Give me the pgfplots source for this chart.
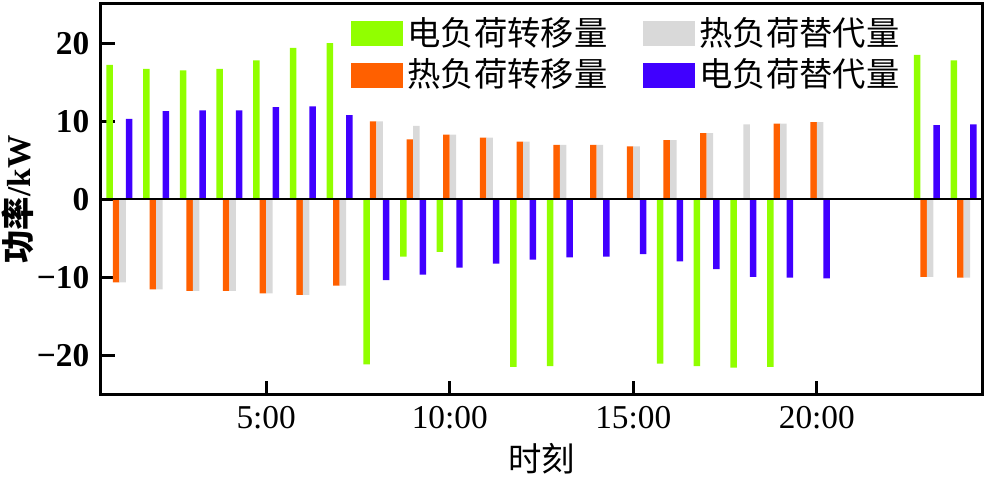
\documentclass[border=0pt]{standalone}
\usepackage{fontspec}
\setmainfont{Liberation Serif}
\newfontfamily\cjk{Noto Sans CJK SC}
\usepackage{pgfplots}
\usepackage{pgfplotstable}
\pgfplotsset{compat=1.18}

\definecolor{cgreen}{RGB}{145,255,0}
\definecolor{corange}{RGB}{255,96,0}
\definecolor{cgray}{RGB}{217,217,217}
\definecolor{cblue}{RGB}{64,0,255}

% hour, electric shift, heat shift, heat substitute, electric substitute (kW)
\pgfplotstableread{
h   eshift  hshift  hsub   esub
1   17.2   -10.6   -10.6   10.3
2   16.7   -11.5   -11.5   11.3
3   16.5   -11.7   -11.7   11.4
4   16.7   -11.7   -11.7   11.4
5   17.8   -12.0   -12.0   11.8
6   19.4   -12.2   -12.2   11.9
7   20.0   -11.0   -11.0   10.8
8  -21.1    10.0    10.0  -10.3
9   -7.3     7.7     9.4   -9.6
10  -6.7     8.3     8.3   -8.7
11   0       7.9     7.9   -8.2
12 -21.4     7.4     7.4   -7.7
13 -21.3     7.0     7.0   -7.4
14   0       7.0     7.0   -7.3
15   0       6.8     6.8   -7.0
16 -21.0     7.6     7.6   -7.9
17 -21.3     8.5     8.5   -8.9
18 -21.5     0       9.6   -9.9
19 -21.4     9.7     9.7  -10.0
20   0       9.9     9.9  -10.1
21   0       0       0      0
22   0       0       0      0
23  18.5    -9.9    -9.9    9.5
24  17.8   -10.0   -10.0    9.6
}\loadtable

\begin{document}
\begin{tikzpicture}
\begin{axis}[
  scale only axis, width=264.3pt, height=117.3pt,
  xmin=0.5, xmax=24.5, ymin=-25, ymax=25,
  ybar, bar width=0.177,
  xtick={5,10,15,20}, xticklabels={5:00,10:00,15:00,20:00},
  ytick={-20,-10,0,10,20}, yticklabels={−20,−10,0,10,20},
  yticklabel style={font=\bfseries},
  tick align=inside, tick pos=left, major tick length=4.2pt,
  axis line style={line width=0.9pt},
  every tick/.style={black, line width=0.9pt},
  xlabel={\cjk 时刻},
  xlabel style={at={(axis description cs:0.5,-0.164)}, anchor=center},
  ylabel={\bfseries{\cjk 功率}/kW},
  ylabel style={at={(axis description cs:-0.0942,0.5)}, anchor=center},
  every axis plot post/.append style={
    legend image code/.code={\path[##1] (0pt,-3.75pt) rectangle (15.6pt,3.75pt);}},
  legend columns=2, transpose legend,
  legend style={at={(axis description cs:0.2826,0.976)}, anchor=north west,
    draw=none, fill=none, inner sep=0pt, font=\cjk, row sep=0.5pt,
    nodes={inner xsep=1.5pt, inner ysep=1pt},
    /tikz/every even column/.append style={column sep=9pt}},
]
\addplot[fill=cgreen, draw=none, bar shift=-0.266] table[x=h, y=eshift] {\loadtable};
\addplot[fill=corange, draw=none, bar shift=-0.089] table[x=h, y=hshift] {\loadtable};
\addplot[fill=cgray, draw=none, bar shift=0.089] table[x=h, y=hsub] {\loadtable};
\addplot[fill=cblue, draw=none, bar shift=0.266] table[x=h, y=esub] {\loadtable};
\legend{电负荷转移量, 热负荷转移量, 热负荷替代量, 电负荷替代量}
\draw[black, line width=0.6pt] (axis cs:0.5,0) -- (axis cs:24.5,0);
\end{axis}
\pgfresetboundingbox
\path ([shift={(-30.3pt,-24.9pt)}]current axis.south west)
  rectangle ([shift={(1.5pt,1.2pt)}]current axis.north east);
\end{tikzpicture}
\end{document}
